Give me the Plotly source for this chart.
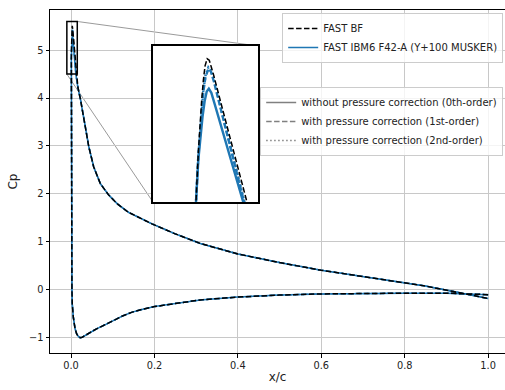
import plotly.graph_objects as go

# ---------------- data ----------------
# lower branch: trailing edge -> leading edge (shared by all series)
lower_x = [1.0, 0.95, 0.9, 0.8, 0.7, 0.6, 0.5, 0.4, 0.31, 0.25, 0.2, 0.165, 0.145, 0.125,
           0.105, 0.086, 0.06, 0.046, 0.034, 0.027, 0.022, 0.018, 0.0136, 0.0096, 0.0055,
           0.003, 0.0022, 0.0016, 0.0012, 0.0008, 0.0004, 0.00024]
lower_y = [-0.11, -0.09, -0.08, -0.08, -0.085, -0.095, -0.12, -0.16, -0.22, -0.29, -0.36,
           -0.43, -0.48, -0.55, -0.63, -0.72, -0.83, -0.90, -0.97, -1.0, -1.01, -0.99,
           -0.93, -0.82, -0.58, -0.3, 0.0, 1.0, 2.0, 3.0, 4.0, 4.5]

# suction peak region, per series
bf_peak_x = [0.0008, 0.0012, 0.0016, 0.002, 0.0024, 0.0029, 0.0034, 0.0039, 0.0044,
             0.0075, 0.0123]
bf_peak_y = [4.85, 5.055, 5.22, 5.36, 5.46, 5.51, 5.50, 5.45, 5.40, 5.05, 4.51]
ibm0_peak_x = [0.0008, 0.0013, 0.0018, 0.0023, 0.0028, 0.0033, 0.0039, 0.0047, 0.0115]
ibm0_peak_y = [4.80, 4.96, 5.10, 5.21, 5.28, 5.30, 5.27, 5.19, 4.50]
ibm1_peak_x = [0.0008, 0.0012, 0.0016, 0.002, 0.0025, 0.0032, 0.0038, 0.0045, 0.0117]
ibm1_peak_y = [4.83, 4.99, 5.15, 5.28, 5.38, 5.44, 5.42, 5.35, 4.50]
ibm2_peak_x = [0.0008, 0.0012, 0.0016, 0.002, 0.0025, 0.0032, 0.0038, 0.0045, 0.0118]
ibm2_peak_y = [4.83, 5.00, 5.16, 5.29, 5.39, 5.45, 5.43, 5.36, 4.50]

# upper branch: leading edge -> trailing edge (shared)
upper_x = [0.0165, 0.0223, 0.0343, 0.0424, 0.0544, 0.0703, 0.0904, 0.112, 0.138, 0.194,
           0.25, 0.31, 0.4, 0.5, 0.6, 0.7, 0.79, 0.85, 0.92, 1.0]
upper_y = [4.22, 3.99, 3.40, 2.99, 2.56, 2.21, 1.97, 1.78, 1.61, 1.37,
           1.16, 0.96, 0.74, 0.56, 0.40, 0.27, 0.15, 0.07, -0.05, -0.19]

x_ticks = [0.0, 0.2, 0.4, 0.6, 0.8, 1.0]
y_ticks = [-1, 0, 1, 2, 3, 4, 5]

# ---------------- layout constants ----------------
XR = [-0.0504, 1.0405]
YR = [-1.33, 5.84]
ZX = [-0.01, 0.015]
ZY = [4.5, 5.6]
INSET_DX = [0.2264, 0.457]
INSET_DY = [0.440, 0.895]

BLUE = "#1f77b4"
FONT = "DejaVu Sans"
DASH = "5.5px,2.4px"
DOT = "1.5px,2.5px"

series = [
    ("FAST IBM6 F42-A (Y+100 MUSKER)", ibm0_peak_x, ibm0_peak_y, "solid", True),
    ("ibm1", ibm1_peak_x, ibm1_peak_y, DASH, False),
    ("ibm2", ibm2_peak_x, ibm2_peak_y, DOT, False),
]

fig = go.Figure()

for axx, axy, lw in [("x", "y", 1.5), ("x2", "y2", 2.4)]:
    for name, px, py, dash, show in series:
        fig.add_trace(go.Scatter(
            x=lower_x + px + upper_x, y=lower_y + py + upper_y,
            mode="lines", name=name, line=dict(color=BLUE, width=lw, dash=dash),
            showlegend=(show and axx == "x"), legend="legend", legendrank=2,
            xaxis=axx, yaxis=axy, hoverinfo="skip"))
    fig.add_trace(go.Scatter(
        x=lower_x + bf_peak_x + upper_x, y=lower_y + bf_peak_y + upper_y,
        mode="lines", name="FAST BF", line=dict(color="black", width=1.5, dash=DASH),
        showlegend=(axx == "x"), legend="legend", legendrank=1,
        xaxis=axx, yaxis=axy, hoverinfo="skip"))

# proxy entries for second legend
for name, dash in [("without pressure correction (0th-order)", "solid"),
                   ("with pressure correction (1st-order)", DASH),
                   ("with pressure correction (2nd-order)", DOT)]:
    fig.add_trace(go.Scatter(x=[None], y=[None], mode="lines", name=name,
                             line=dict(color="gray", width=1.5, dash=dash),
                             legend="legend2"))

# zoom rectangle and connectors
fig.add_shape(type="rect", xref="x", yref="y", x0=ZX[0], x1=ZX[1], y0=ZY[0], y1=ZY[1],
              line=dict(color="black", width=1.5))
tr_x = XR[0] + INSET_DX[1] * (XR[1] - XR[0])
tr_y = YR[0] + INSET_DY[1] * (YR[1] - YR[0])
bl_x = XR[0] + INSET_DX[0] * (XR[1] - XR[0])
bl_y = YR[0] + INSET_DY[0] * (YR[1] - YR[0])
fig.add_shape(type="line", xref="x", yref="y", x0=ZX[1], y0=ZY[1], x1=tr_x, y1=tr_y,
              line=dict(color="gray", width=0.8), layer="below")
fig.add_shape(type="line", xref="x", yref="y", x0=ZX[0], y0=ZY[0], x1=bl_x, y1=bl_y,
              line=dict(color="gray", width=0.8), layer="below")

axis_common = dict(showgrid=True, gridcolor="#c8c8c8", gridwidth=1, zeroline=False,
                   ticks="outside", ticklen=3.5, tickwidth=0.8, tickcolor="black",
                   showline=True, linecolor="black", linewidth=1,
                   tickfont=dict(family=FONT, size=9.8, color="#222"))

fig.update_layout(
    width=505, height=390,
    margin=dict(l=50, r=0, t=10, b=37),
    paper_bgcolor="white", plot_bgcolor="white",
    font=dict(family=FONT, color="#222"),
    xaxis=dict(range=XR, tickvals=x_ticks, tickformat=".1f", mirror=True,
               title=dict(text="x/c", font=dict(size=12, family=FONT), standoff=2),
               **axis_common),
    yaxis=dict(range=YR, tickvals=y_ticks,
               title=dict(text="Cp", font=dict(size=12, family=FONT), standoff=8),
               **axis_common),
    xaxis2=dict(domain=INSET_DX, range=ZX, anchor="y2", showgrid=False, zeroline=False,
                showticklabels=False, ticks="", showline=True, mirror=True,
                linecolor="black", linewidth=1.5),
    yaxis2=dict(domain=INSET_DY, range=ZY, anchor="x2", showgrid=False, zeroline=False,
                showticklabels=False, ticks="", showline=True, mirror=True,
                linecolor="black", linewidth=1.5),
    legend=dict(x=0.996, y=0.991, xanchor="right", yanchor="top",
                bgcolor="rgba(255,255,255,0.8)", bordercolor="#cccccc", borderwidth=1,
                font=dict(family=FONT, size=10, color="#222"), traceorder="normal",
                itemwidth=30),
    legend2=dict(x=0.996, y=0.7755, xanchor="right", yanchor="top",
                 bgcolor="rgba(255,255,255,0.8)", bordercolor="#cccccc", borderwidth=1,
                 font=dict(family=FONT, size=10, color="#222"), traceorder="normal",
                 itemwidth=30),
    showlegend=True,
)

fig.write_html("out.html", config={"displayModeBar": False},
               post_script="document.body.style.margin='0';")
